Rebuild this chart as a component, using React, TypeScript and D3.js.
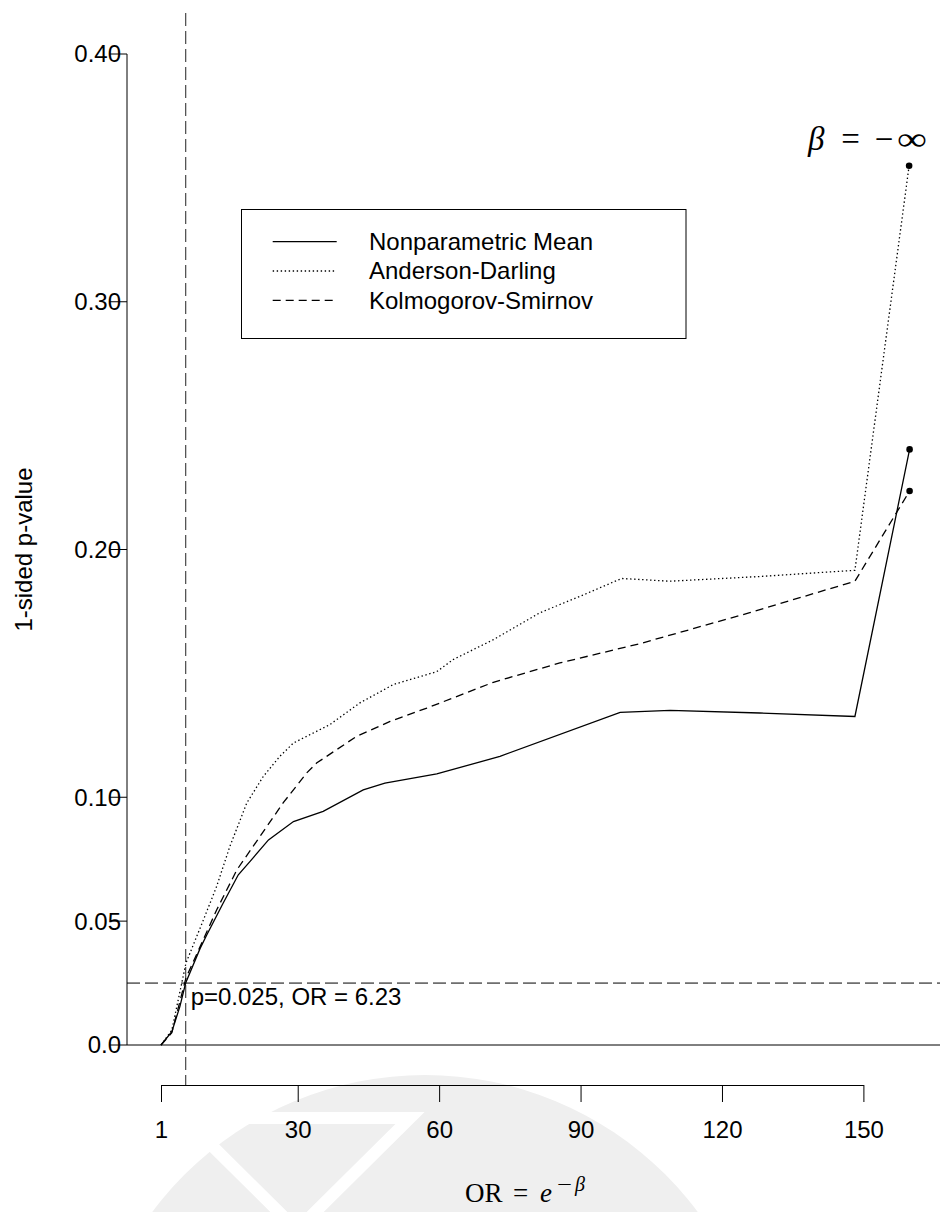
import React, { useEffect, useRef } from "react";
import * as d3 from "d3";

// odds ratio positions and 1-sided p-values
const orNP = [1, 3.3, 5, 6.23, 9.3, 10.7, 14.2, 17.4, 19.9, 23.8, 29.1, 35.4, 43.9, 48.5, 59.5, 72.9, 98.4, 109, 128, 148.2, 159.8];
const pNP = [0, 0.0054, 0.0155, 0.025, 0.039, 0.0444, 0.0573, 0.0687, 0.0741, 0.0828, 0.0902, 0.0943, 0.103, 0.1057, 0.1094, 0.1165, 0.1343, 0.1351, 0.134, 0.1326, 0.2404];

const orAD = [1, 3.3, 6.3, 10, 12.8, 15.6, 19.2, 22.7, 26.2, 29.1, 36.8, 43.2, 50.3, 59.5, 63, 71.5, 81.4, 89.9, 98.7, 109, 128, 148.2, 159.7];
const pAD = [0, 0.006, 0.0331, 0.0505, 0.064, 0.0801, 0.0977, 0.1084, 0.1165, 0.1219, 0.1293, 0.1381, 0.1455, 0.1507, 0.1556, 0.1636, 0.1745, 0.1811, 0.1883, 0.1872, 0.1891, 0.1916, 0.3549];

const orKS = [1, 3.3, 6.3, 9.3, 12.8, 17.1, 22, 26.9, 31.9, 34, 42.5, 49.6, 57.4, 71.5, 85.6, 102.6, 125.9, 148.2, 159.8];
const pKS = [0, 0.005, 0.0271, 0.0397, 0.0545, 0.0707, 0.0842, 0.0977, 0.1098, 0.1138, 0.1246, 0.1306, 0.136, 0.1464, 0.1542, 0.162, 0.1745, 0.1872, 0.2236];

const seriesNames = ["Nonparametric Mean", "Anderson-Darling", "Kolmogorov-Smirnov"];
const seriesDash = ["none", "1.4,2.6", "8,5"];

const yTicks = [0, 0.05, 0.1, 0.2, 0.3, 0.4];
const yTickLabels = ["0.0", "0.05", "0.10", "0.20", "0.30", "0.40"];
const xTicks = [1, 30, 60, 90, 120, 150];

const pCut = 0.025;
const orCut = 6.23;

const W = 940;
const H = 1212;
const sans = "'Liberation Sans', Arial, Helvetica, sans-serif";
const serif = "'Liberation Serif', 'Times New Roman', serif";

export default function App() {
  const ref = useRef<SVGSVGElement>(null);

  useEffect(() => {
    const svg = d3.select(ref.current);
    svg.selectAll("*").remove();

    const x = d3.scaleLinear().domain([1, 150]).range([161, 863.4]);
    const y = d3.scaleLinear().domain([0, 0.4]).range([1045, 54]);
    const axisX = 127;
    const axisY = 1085;

    // faint watermark behind the lower part
    const wm = svg.append("g");
    wm.append("circle").attr("cx", 425).attr("cy", 1415).attr("r", 340).attr("fill", "#efefef");
    wm.append("polygon")
      .attr("points", "184,1118 410,1118 297,1230")
      .attr("fill", "none")
      .attr("stroke", "#ffffff")
      .attr("stroke-width", 12);

    // y axis
    svg.append("line")
      .attr("x1", axisX).attr("x2", axisX)
      .attr("y1", y(0.4)).attr("y2", y(0))
      .attr("stroke", "#000");
    yTicks.forEach((t, i) => {
      svg.append("text")
        .attr("x", 121).attr("y", y(t)).attr("dy", "0.35em")
        .attr("text-anchor", "end")
        .style("font-family", sans).style("font-size", "24px")
        .text(yTickLabels[i]);
      svg.append("line")
        .attr("x1", axisX - 17).attr("x2", axisX)
        .attr("y1", y(t)).attr("y2", y(t))
        .attr("stroke", "#000");
    });
    svg.append("text")
      .attr("transform", `translate(32,${y(0.2)}) rotate(-90)`)
      .attr("text-anchor", "middle")
      .style("font-family", sans).style("font-size", "24px")
      .text("1-sided p-value");

    // x axis
    const xg = svg.append("g").attr("transform", `translate(0,${axisY})`);
    xg.call(d3.axisBottom(x).tickValues(xTicks).tickSize(17).tickSizeOuter(0).tickFormat(d3.format("d")));
    xg.select(".domain").attr("stroke", "#000");
    xg.selectAll(".tick line").attr("stroke", "#000");
    xg.selectAll(".tick text")
      .attr("y", 36).attr("dy", "0.71em")
      .style("font-family", sans).style("font-size", "24px").attr("fill", "#000");

    // x label: OR = e^{-beta}
    const xl = svg.append("g").style("font-family", serif);
    xl.append("text").attr("x", 465).attr("y", 1202).style("font-size", "27px").text("OR");
    xl.append("text").attr("x", 520.5).attr("y", 1202).attr("text-anchor", "middle")
      .style("font-size", "27px").text("=");
    xl.append("text").attr("x", 540).attr("y", 1202).style("font-size", "27px")
      .style("font-style", "italic").text("e");
    xl.append("text").attr("x", 557).attr("y", 1191).style("font-size", "19px")
      .attr("textLength", 15).attr("lengthAdjust", "spacingAndGlyphs").text("−");
    xl.append("text").attr("x", 575).attr("y", 1191).style("font-size", "20px")
      .style("font-style", "italic").text("β");

    // reference lines
    svg.append("line")
      .attr("x1", axisX).attr("x2", W).attr("y1", y(0)).attr("y2", y(0))
      .attr("stroke", "#000");
    svg.append("line")
      .attr("x1", axisX).attr("x2", W).attr("y1", y(pCut)).attr("y2", y(pCut))
      .attr("stroke", "#000").attr("stroke-dasharray", "13,5");
    svg.append("line")
      .attr("x1", x(orCut)).attr("x2", x(orCut)).attr("y1", 13).attr("y2", axisY)
      .attr("stroke", "#555").attr("stroke-width", 1.3).attr("stroke-dasharray", "13,5");
    svg.append("text")
      .attr("x", x(orCut) + 5).attr("y", 1005)
      .style("font-family", sans).style("font-size", "24px")
      .text(`p=${pCut}, OR = ${orCut}`);

    // curves
    const series = [
      { or: orNP, p: pNP },
      { or: orAD, p: pAD },
      { or: orKS, p: pKS },
    ];
    const line = d3.line<[number, number]>().x((d) => x(d[0])).y((d) => y(d[1]));
    series.forEach((s, i) => {
      const pts = s.or.map((o, j) => [o, s.p[j]] as [number, number]);
      svg.append("path")
        .attr("d", line(pts))
        .attr("fill", "none")
        .attr("stroke", "#000")
        .attr("stroke-width", 1.3)
        .attr("stroke-dasharray", seriesDash[i]);
      const last = pts[pts.length - 1];
      svg.append("circle")
        .attr("cx", x(last[0])).attr("cy", y(last[1])).attr("r", 3.3)
        .attr("fill", "#000");
    });

    // beta = -infinity label
    const bl = svg.append("g").style("font-family", serif);
    bl.append("text").attr("x", 808).attr("y", 150).style("font-size", "33px")
      .style("font-style", "italic").text("β");
    bl.append("text").attr("x", 850.5).attr("y", 150).attr("text-anchor", "middle")
      .style("font-size", "33px").text("=");
    bl.append("text").attr("x", 884).attr("y", 150).attr("text-anchor", "middle")
      .style("font-size", "33px").text("−");
    bl.append("text").attr("x", 897).attr("y", 150).style("font-size", "33px")
      .attr("textLength", 30).attr("lengthAdjust", "spacingAndGlyphs").text("∞");

    // legend
    const lg = svg.append("g");
    lg.append("rect")
      .attr("x", 241.5).attr("y", 209.5).attr("width", 444.5).attr("height", 129)
      .attr("fill", "#fff").attr("stroke", "#000");
    seriesNames.forEach((name, i) => {
      const ry = 241.7 + i * 29.3;
      lg.append("line")
        .attr("x1", 272.7).attr("x2", 336.7).attr("y1", ry).attr("y2", ry)
        .attr("stroke", "#000").attr("stroke-width", 1.3)
        .attr("stroke-dasharray", seriesDash[i]);
      lg.append("text")
        .attr("x", 369).attr("y", ry).attr("dy", "0.35em")
        .style("font-family", sans).style("font-size", "24px")
        .text(name);
    });
  }, []);

  return (
    <svg
      ref={ref}
      width={W}
      height={H}
      style={{ position: "absolute", left: 0, top: 0, background: "#fff" }}
    />
  );
}
